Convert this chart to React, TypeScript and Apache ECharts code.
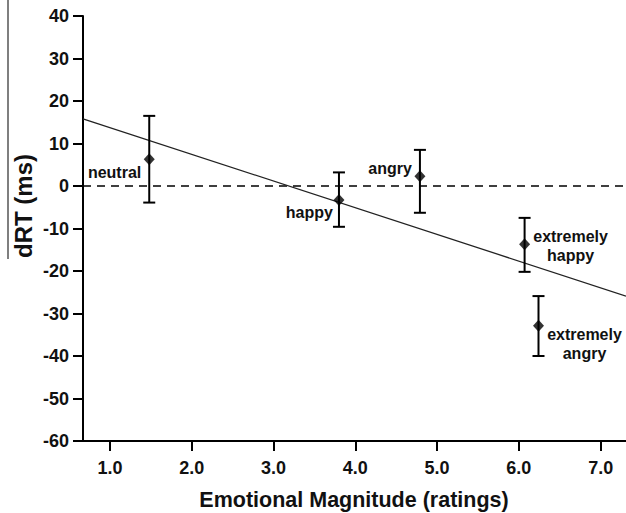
import React, { useEffect, useRef } from "react";
import * as echarts from "echarts";

// Data
const conditionLabels = ["neutral", "happy", "angry", "extremely\nhappy", "extremely\nangry"];
const magnitudes = [1.48, 3.8, 4.79, 6.07, 6.24];
const meanDRT = [6.3, -3.3, 2.3, -13.7, -32.9];
const upperDRT = [16.5, 3.2, 8.5, -7.5, -25.9];
const lowerDRT = [-3.9, -9.6, -6.3, -20.2, -40.0];
const fitLine = [
  [0.67, 15.8],
  [7.31, -25.9],
];
const zeroLine = [
  [0.67, 0],
  [7.31, 0],
];
const xTicks = [1, 2, 3, 4, 5, 6, 7];
const xMin = 0.67;
const xMax = 7.31;

// Label placement (style, not data)
const labelPlacement = [
  { dx: -8, dy: 13, align: "right" },
  { dx: -6, dy: 12, align: "right" },
  { dx: -8, dy: -8, align: "right" },
  { dx: 46, dy: 2, align: "center" },
  { dx: 46, dy: 18, align: "center" },
];

const FONT = '"Liberation Sans", Arial, Helvetica, sans-serif';

export default function App() {
  const ref = useRef<HTMLDivElement>(null);
  useEffect(() => {
    if (!ref.current) return;
    const chart = echarts.init(ref.current, null, { renderer: "svg" });
    const barData = magnitudes.map((x, i) => [x, meanDRT[i], lowerDRT[i], upperDRT[i]]);
    chart.setOption({
      animation: false,
      backgroundColor: "#fff",
      grid: { left: 83, right: 0, top: 16, bottom: 72, containLabel: false },
      xAxis: {
        type: "value",
        min: xMin,
        max: xMax,
        splitLine: { show: false },
        axisLine: { show: true, onZero: false, lineStyle: { color: "#000", width: 2 } },
        axisTick: {
          show: true,
          customValues: xTicks,
          length: 10,
          lineStyle: { color: "#000", width: 2 },
        },
        axisLabel: {
          customValues: xTicks,
          formatter: (v: number) => v.toFixed(1),
          color: "#111",
          fontSize: 18,
          fontWeight: "bold",
          fontFamily: FONT,
          margin: 18,
        },
      },
      yAxis: {
        type: "value",
        min: -60,
        max: 40,
        interval: 10,
        splitLine: { show: false },
        axisLine: { show: true, onZero: false, lineStyle: { color: "#000", width: 2 } },
        axisTick: { show: true, length: 10, lineStyle: { color: "#000", width: 2 } },
        axisLabel: {
          color: "#111",
          fontSize: 18,
          fontWeight: "bold",
          fontFamily: FONT,
          margin: 14,
        },
      },
      graphic: [
        {
          type: "line",
          shape: { x1: 8, y1: 0, x2: 8, y2: 259 },
          style: { stroke: "#555", lineWidth: 1.5 },
        },
        {
          type: "text",
          x: 23,
          y: 206,
          rotation: Math.PI / 2,
          style: {
            text: "dRT (ms)",
            align: "center",
            verticalAlign: "middle",
            fontSize: 24,
            fontWeight: "bold",
            fontFamily: FONT,
            fill: "#111",
          },
        },
        {
          type: "text",
          x: 354,
          y: 500,
          style: {
            text: "Emotional Magnitude (ratings)",
            align: "center",
            verticalAlign: "middle",
            fontSize: 21.5,
            fontWeight: "bold",
            fontFamily: FONT,
            fill: "#111",
          },
        },
      ],
      series: [
        {
          type: "line",
          data: zeroLine,
          symbol: "none",
          lineStyle: { color: "#000", width: 1.5, type: [8, 6] },
          z: 1,
        },
        {
          type: "line",
          data: fitLine,
          symbol: "none",
          lineStyle: { color: "#222", width: 1.3 },
          z: 2,
        },
        {
          type: "custom",
          data: barData,
          z: 3,
          renderItem: (params: any, api: any) => {
            const i = params.dataIndex;
            const p = api.coord([api.value(0), api.value(1)]);
            const lo = api.coord([api.value(0), api.value(2)]);
            const hi = api.coord([api.value(0), api.value(3)]);
            const w = 6;
            const lp = labelPlacement[i];
            const st = { stroke: "#000", lineWidth: 2 };
            return {
              type: "group",
              children: [
                { type: "line", shape: { x1: lo[0], y1: lo[1], x2: hi[0], y2: hi[1] }, style: st },
                { type: "line", shape: { x1: lo[0] - w, y1: lo[1], x2: lo[0] + w, y2: lo[1] }, style: st },
                { type: "line", shape: { x1: hi[0] - w, y1: hi[1], x2: hi[0] + w, y2: hi[1] }, style: st },
                {
                  type: "text",
                  x: p[0] + lp.dx,
                  y: p[1] + lp.dy,
                  style: {
                    text: conditionLabels[i],
                    align: lp.align,
                    verticalAlign: "middle",
                    fontSize: 16,
                    fontWeight: "bold",
                    fontFamily: FONT,
                    lineHeight: 19,
                    fill: "#111",
                  },
                },
              ],
            };
          },
        },
        {
          type: "scatter",
          data: magnitudes.map((x, i) => [x, meanDRT[i]]),
          symbol: "diamond",
          symbolSize: [11, 12],
          itemStyle: { color: "#000" },
          z: 4,
        },
      ],
    });
    return () => chart.dispose();
  }, []);
  return (
    <div
      ref={ref}
      style={{ position: "fixed", left: 0, top: 0, width: 626, height: 513, background: "#fff" }}
    />
  );
}
